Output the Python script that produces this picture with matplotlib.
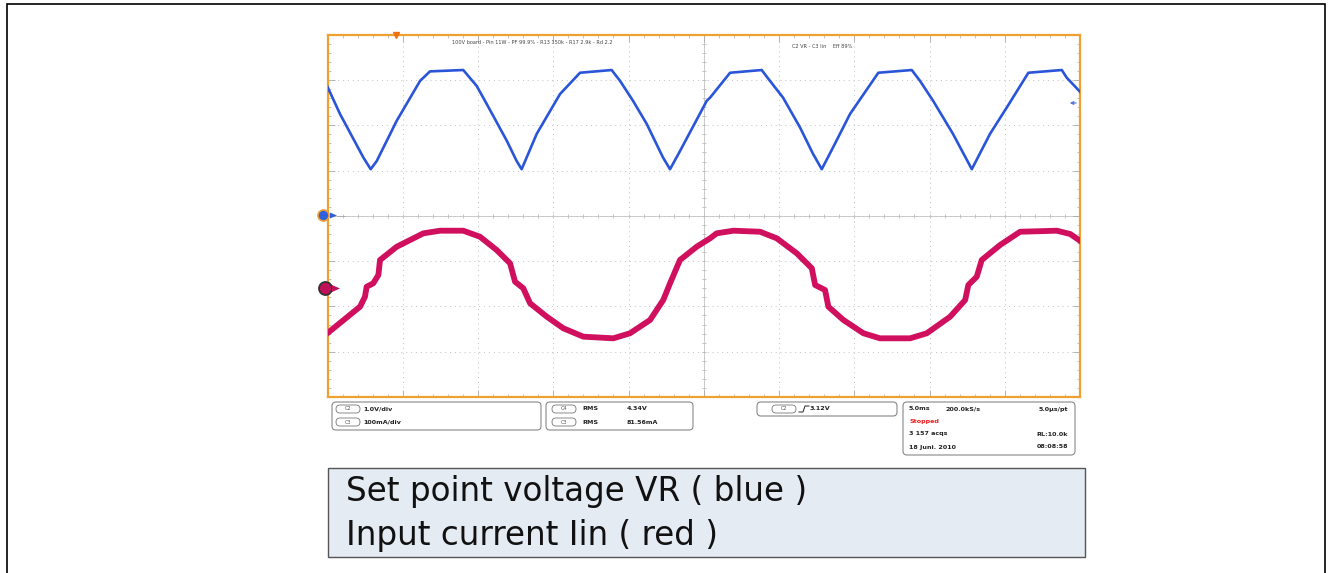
import numpy as np
import matplotlib.pyplot as plt
from matplotlib.patches import FancyBboxPatch, Rectangle, Circle, Polygon
from matplotlib.lines import Line2D
from matplotlib.transforms import IdentityTransform

W, H = 1332, 573

# C2 set point voltage VR (blue): time in ms, volts
vr_t = [0.0, 0.83, 2.38, 2.87, 3.27, 4.60, 6.15, 6.81, 9.02, 9.91, 10.58, 11.91, 12.57, 12.90,
        13.90, 15.45, 16.78, 18.88, 19.44, 20.30, 21.21, 22.29, 22.76, 23.42, 25.20, 25.42,
        26.75, 28.85, 29.40, 30.27, 31.40, 32.26, 32.84, 33.59, 34.72, 36.60, 38.82, 39.37,
        40.24, 41.56, 42.81, 44.02, 45.13, 46.57, 48.79, 49.12, 50.0]
vr_v = [2.85, 2.25, 1.29, 1.03, 1.21, 2.10, 2.98, 3.19, 3.22, 2.87, 2.47, 1.66, 1.21, 1.03,
        1.81, 2.69, 3.16, 3.22, 2.98, 2.54, 2.03, 1.29, 1.03, 1.43, 2.54, 2.61,
        3.16, 3.22, 2.98, 2.61, 1.95, 1.37, 1.03, 1.51, 2.25, 3.16, 3.22, 2.98,
        2.54, 1.81, 1.03, 1.81, 2.39, 3.16, 3.22, 3.05, 2.74]

# C3 input current Iin (red): time in ms, mA
iin_t = [0.0, 2.16, 2.49, 2.60, 3.04, 3.38, 3.49, 4.60, 6.37, 7.48, 9.02, 10.13, 11.24, 12.13,
         12.46, 13.01, 13.46, 14.57, 15.67, 17.00, 18.99, 20.10, 21.43, 22.31, 22.76, 23.42,
         24.53, 25.42, 25.86, 26.97, 28.74, 29.85, 31.18, 32.18, 32.40, 33.06, 33.28, 34.28,
         35.61, 36.71, 38.71, 39.82, 41.37, 42.37, 42.58, 43.14, 43.47, 44.69, 46.02, 48.46,
         49.35, 50.0]
iin_ma = [-99.0, -40.6, -18.5, 3.5, 11.0, 29.4, 62.5, 91.8, 121.4, 127.2, 127.2, 113.9, 84.5, 55.2,
          14.6, 0.0, -33.1, -62.7, -88.3, -106.8, -110.4, -99.3, -70.0, -25.8, 11.0, 62.5,
          91.8, 110.4, 121.4, 127.2, 124.9, 110.4, 77.3, 44.2, 7.3, -3.8, -40.6, -70.0,
          -99.3, -110.4, -110.4, -99.3, -62.7, -25.8, 7.3, 25.6, 62.5, 95.6, 124.9, 127.2,
          119.9, 105.0]

time_per_div = 5.0      # ms/div
vr_per_div = 1.0        # V/div
iin_per_div = 100.0     # mA/div
vr_pos = 0.0            # div
iin_pos = -1.6          # div
trigger_t = 4.55        # ms
trigger_level = 3.12    # V

fig = plt.figure(figsize=(W / 100, H / 100), dpi=100)
ax = fig.add_axes([327.5 / W, 1 - 397 / H, 752.5 / W, 362.3 / H])

orange = '#f0a030'
blue = '#2a55d8'
red = '#d0105e'

ax.plot(vr_t, np.array(vr_v) / vr_per_div + vr_pos, color=blue, lw=1.9, zorder=3)
ax.plot(iin_t, np.array(iin_ma) / iin_per_div + iin_pos, color=red, lw=4.2,
        solid_joinstyle='round', zorder=3)

ax.set_xlim(0, 10 * time_per_div)
ax.set_ylim(-4, 4)
ax.set_xticks(np.arange(0, 50.1, time_per_div))
ax.set_xticks(np.arange(0, 50.1, time_per_div / 5), minor=True)
ax.set_yticks(np.arange(-4, 4.1, 1))
ax.set_yticks(np.arange(-4, 4.1, 0.2), minor=True)
ax.tick_params(which='both', direction='in', top=True, right=True,
               labelbottom=False, labelleft=False, color='#aaaaaa')
ax.tick_params(which='major', length=5, width=0.6)
ax.tick_params(which='minor', length=2.5, width=0.5)
ax.grid(True, which='major', linestyle=(0, (1, 4)), color='#c0c0c0', lw=0.7)
for s in ax.spines.values():
    s.set_color(orange)
    s.set_linewidth(1.6)

# center cross with small ticks
ax.axhline(0, color='#cccccc', lw=0.7, zorder=1)
ax.axvline(25, color='#cccccc', lw=0.7, zorder=1)
ax.plot(np.arange(0, 50.1, 1), np.zeros(51), ls='none', marker='|', ms=3,
        color='#bbbbbb', mew=0.6, zorder=1)
ax.plot(np.full(41, 25.0), np.arange(-4, 4.01, 0.2), ls='none', marker='_', ms=3,
        color='#bbbbbb', mew=0.6, zorder=1)

# trigger position marker
ax.plot([trigger_t], [1.0], marker='v', ms=5, color='#f07010',
        transform=ax.get_xaxis_transform(), clip_on=False, zorder=5)
# trigger level marker on right
ax.annotate('', xy=(1067, H - 103), xytext=(1079, H - 103), xycoords='figure pixels',
            textcoords='figure pixels',
            arrowprops=dict(arrowstyle='-|>', color='#5577dd', lw=0.8, mutation_scale=5))

ax.text(0.272, 0.985, '100V board - Pin 11W - PF 99.9% - R13 150k - R17 2.9k - Rd 2.2',
        transform=ax.transAxes, fontsize=3.6, color='#444444', ha='center', va='top')
ax.text(0.617, 0.975, 'C2 VR - C3 Iin    Eff 89%', transform=ax.transAxes,
        fontsize=3.6, color='#444444', ha='left', va='top')

T = IdentityTransform()


def py(y):
    return H - y


def rbox(x0, y0, x1, y1, r=4, fc='white', ec='#888888', lw=0.8):
    fig.add_artist(FancyBboxPatch((x0, py(y1)), x1 - x0, y1 - y0,
                                  boxstyle='round,pad=0,rounding_size=%g' % r,
                                  transform=T, fc=fc, ec=ec, lw=lw))


def label(x, y, s, ha='left', color='#222222', size=4.6, weight='bold'):
    fig.text(x, py(y), s, transform=T, ha=ha, va='center', fontsize=size,
             color=color, fontweight=weight)


def chan(x, y, s):
    rbox(x, y - 4, x + 24, y + 4, r=4, ec='#777777', lw=0.6)
    label(x + 12, y, s, ha='center', size=3.6, weight='normal', color='#555555')


# channel markers at left edge
fig.add_artist(Circle((323.5, py(215.5)), 5.5, transform=T, fc='#3060e0', ec=orange, lw=1.2))
fig.add_artist(Polygon([[330, py(212.5)], [330, py(218.5)], [337, py(215.5)]],
                       transform=T, fc='#3060e0', ec='none'))
fig.add_artist(Line2D([337, 345], [py(215.5), py(215.5)], transform=T, color='#aaaaaa', lw=0.6))
fig.add_artist(Circle((325.5, py(288.5)), 6.5, transform=T, fc='#c0105a', ec='#333333', lw=1.3))
fig.add_artist(Polygon([[332, py(285)], [332, py(292)], [340, py(288.5)]],
                       transform=T, fc='#c0105a', ec='none'))

# info boxes below the screen
rbox(332, 402, 541, 430)
chan(336, 409, 'C2')
label(363, 409, '%.1fV/div' % vr_per_div)
chan(336, 422, 'C3')
label(363, 422, '%dmA/div' % iin_per_div)

rbox(546, 402, 693, 430)
chan(552, 409, 'C4')
label(582, 409, 'RMS')
label(627, 409, '4.34V')
chan(552, 422, 'C3')
label(582, 422, 'RMS')
label(627, 422, '81.56mA')

rbox(757, 402, 897, 416)
chan(772, 409, 'C2')
fig.add_artist(Line2D([799, 803, 805, 809], [py(412), py(412), py(406), py(406)],
                      transform=T, color='#222222', lw=0.7))
label(810, 409, '%.2fV' % trigger_level)

rbox(903, 402, 1075, 455)
label(909, 409, '%.1fms' % time_per_div)
label(946, 409, '200.0kS/s')
label(1068, 409, '5.0\u03bcs/pt', ha='right')
label(909, 422, 'Stopped', color='#ee2020')
label(909, 434, '3 157 acqs')
label(1068, 434, 'RL:10.0k', ha='right')
label(909, 447, '18 Juni. 2010')
label(1068, 447, '08:08:58', ha='right')

# caption box
fig.add_artist(Rectangle((328, py(557)), 757, 89, transform=T, fc='#e5ebf3',
                         ec='#555555', lw=1.0))
fig.text(346, py(492), 'Set point voltage VR ( blue )', transform=T, fontsize=23.5,
         va='center', ha='left', color='#111111')
fig.text(346, py(536), 'Input current Iin ( red )', transform=T, fontsize=23.5,
         va='center', ha='left', color='#111111')

# outer frame
fig.add_artist(Rectangle((7, -10), 1318, H - 4 + 10, transform=T, fill=False,
                         ec='black', lw=1.2))

fig.savefig('out.png', dpi=100)
